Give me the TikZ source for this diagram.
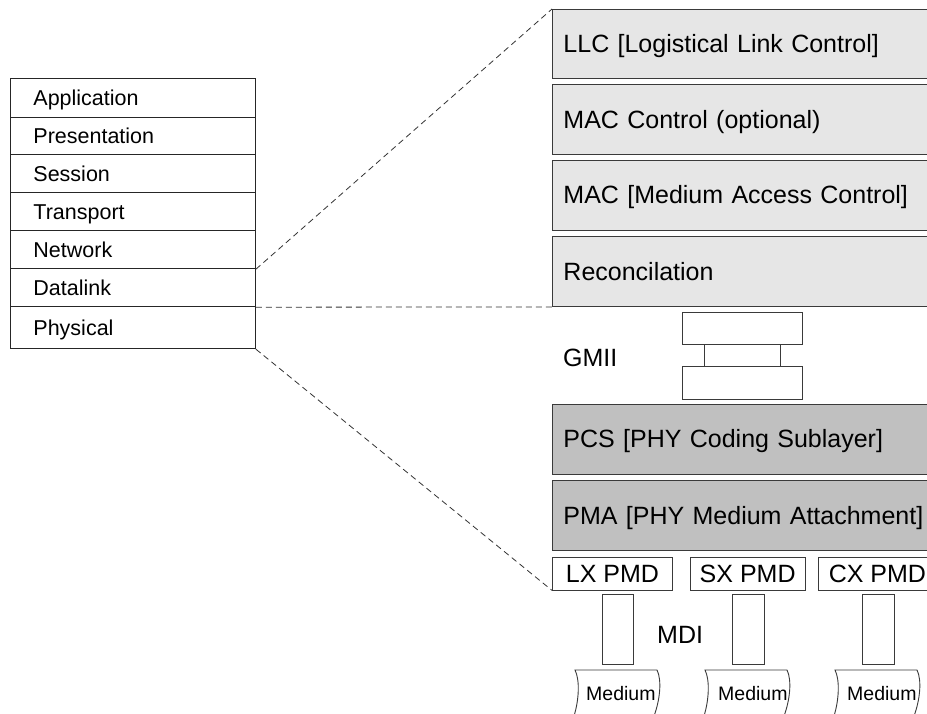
\documentclass[tikz,border=0pt]{standalone}
\usepackage{fontspec}
\setmainfont{Liberation Sans}
\definecolor{uppergray}{HTML}{E6E6E6}
\definecolor{lowergray}{HTML}{C0C0C0}
\definecolor{edgegray}{HTML}{3A3A3A}
\begin{document}
\begin{tikzpicture}[x=1pt,y=-1pt,
  box/.style={draw=edgegray, line width=0.9pt, anchor=north west, inner ysep=0pt},
  osirow/.style={box, draw=black!85, text width=199pt, inner xsep=23pt, align=left,
    font=\fontsize{21.5}{24}\selectfont, text height=15.4pt, text depth=0pt},
  layer/.style={box, text width=380pt, inner xsep=11pt, align=left,
    font=\fontsize{25}{30}\selectfont, text height=17.9pt, text depth=0pt,
    minimum height=70pt},
  maclayer/.style={layer, fill=uppergray},
  phylayer/.style={layer, fill=lowergray},
  pmdbox/.style={box, inner xsep=0pt, minimum height=33pt,
    font=\fontsize{25}{30}\selectfont, text height=17.9pt, text depth=0pt},
  plainbox/.style={box, inner sep=0pt},
  biglabel/.style={anchor=base west, inner sep=0pt, font=\fontsize{25}{30}\selectfont},
  medlabel/.style={anchor=base west, inner sep=0pt, font=\fontsize{19.5}{24}\selectfont},
  zoomline/.style={draw=black!80, line width=0.8pt, dash pattern=on 6pt off 4pt}
]
\fill[white] (0,0) rectangle (927,713);
\useasboundingbox (0,0) rectangle (927,713);
\clip (0,0) rectangle (927,713);

% OSI reference stack
\node[osirow, minimum height=38.4pt] (osi1) at (10,78.3)  {Application};
\node[osirow, minimum height=37.6pt] (osi2) at (10,116.7) {Presentation};
\node[osirow, minimum height=38pt]   (osi3) at (10,154.3) {Session};
\node[osirow, minimum height=38pt]   (osi4) at (10,192.3) {Transport};
\node[osirow, minimum height=38pt]   (osi5) at (10,230.3) {Network};
\node[osirow, minimum height=38pt]   (osi6) at (10,268.3) {Datalink};
\node[osirow, minimum height=42pt]   (osi7) at (10,306.3) {Physical};

% Gigabit Ethernet sublayers
\node[maclayer, minimum height=69pt] (llc)  at (552,9)     {LLC [Logistical Link Control]};
\node[maclayer] (macc) at (552,84)    {MAC Control (optional)};
\node[maclayer] (mac)  at (552,159.5) {MAC [Medium Access Control]};
\node[maclayer] (rec)  at (552,236)   {Reconcilation};

% GMII interface
\node[biglabel] (gmii) at (563,366.5) {GMII};
\node[plainbox, minimum width=120pt, minimum height=32pt] (gmiitop) at (682,312) {};
\node[plainbox, minimum width=76pt,  minimum height=22pt] (gmiimid) at (704,344) {};
\node[plainbox, minimum width=120pt, minimum height=33pt] (gmiibot) at (682,366) {};

\node[phylayer] (pcs) at (552,403.5) {PCS [PHY Coding Sublayer]};
\node[phylayer] (pma) at (552,480)   {PMA [PHY Medium Attachment]};

% PMD variants
\node[pmdbox, minimum width=120pt] (lx) at (552,556.5)   {LX PMD};
\node[pmdbox, minimum width=115pt] (sx) at (689.7,556.5) {SX PMD};
\node[pmdbox, minimum width=118pt] (cx) at (818,556.5)   {CX PMD};

% MDI connectors
\node[plainbox, minimum width=31.6pt, minimum height=70pt] (mdi1) at (601.7,593.5) {};
\node[plainbox, minimum width=32pt,   minimum height=70pt] (mdi2) at (732,593.5)   {};
\node[plainbox, minimum width=32pt,   minimum height=70pt] (mdi3) at (862,593.5)   {};
\node[biglabel] (mdi) at (657,643) {MDI};

% media
\foreach \x/\tx/\nm in {575/586/med1, 705/718/med2, 835/847/med3}{
  \draw[edgegray, line width=0.9pt]
    (\x-1,716) .. controls (\x+4,700) and (\x+5,680) .. (\x,670)
    -- (\x+82,670) .. controls (\x+87,680) and (\x+85,700) .. (\x+79,716);
  \node[medlabel] (\nm) at (\tx,700) {Medium};
}

% zoom lines from the OSI stack to the sublayers
\draw[zoomline] (osi5.south east) -- (llc.north west);
\draw[zoomline] (osi6.south east) -- (rec.south west);
\draw[zoomline] (osi7.south east) -- (lx.south west);
\end{tikzpicture}
\end{document}
